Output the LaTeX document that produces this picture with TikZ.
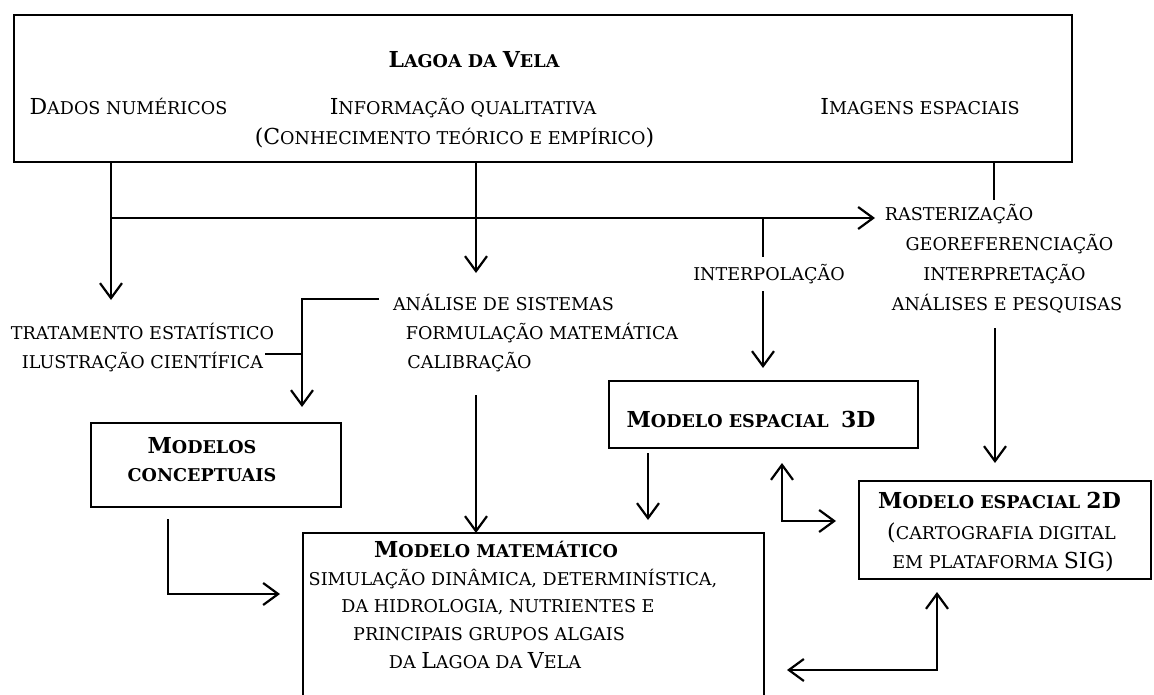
\documentclass[tikz,border=0pt]{standalone}
\usepackage{fontspec}
\setmainfont{DejaVu Serif}
\usetikzlibrary{arrows.meta}
\newcommand{\Bg}[1]{{\fontsize{22}{25}\selectfont #1}}
\begin{document}
\begin{tikzpicture}[x=1pt,y=-1pt,
 box/.style={draw, line width=2.8pt, inner sep=0pt, outer sep=0pt, anchor=north west},
 txt/.style={inner sep=0pt, anchor=base, font=\fontsize{17.6}{20}\selectfont},
 btxt/.style={txt, font=\fontsize{17.6}{20}\selectfont\bfseries},
 conn/.style={line width=2.2pt},
 arr/.style={conn, -{Straight Barb[length=15pt,width=22pt]}},
 darr/.style={conn, {Straight Barb[length=15pt,width=22pt]}-{Straight Barb[length=15pt,width=22pt]}}
]
\useasboundingbox (0,0) rectangle (1154,695);
\clip (0,0) rectangle (1154,695);

% boxes
\node[box, minimum width=1058pt, minimum height=147pt] (top) at (14,15) {};
\node[box, minimum width=250pt, minimum height=84pt] (conc) at (91,423) {};
\node[box, minimum width=309pt, minimum height=67pt] (m3d) at (609,381) {};
\node[box, minimum width=292pt, minimum height=98pt] (m2d) at (859,481) {};
\node[box, minimum width=461pt, minimum height=200pt] (mat) at (303,533) {};

% texts in top box
\node[btxt] (title) at (474,68) {\Bg{L}AGOA DA \Bg{V}ELA};
\node[txt] (dados) at (128.5,115) {\Bg{D}ADOS NUMÉRICOS};
\node[txt] (info) at (463,115) {\Bg{I}NFORMAÇÃO QUALITATIVA};
\node[txt] (conh) at (454.5,145) {\Bg{(C}ONHECIMENTO TEÓRICO E EMPÍRICO\Bg{)}};
\node[txt] (img) at (920,115) {\Bg{I}MAGENS ESPACIAIS};

% middle texts
\node[txt] (rast) at (959,221) {RASTERIZAÇÃO};
\node[txt] (geo) at (1009.5,251) {GEOREFERENCIAÇÃO};
\node[txt] (interp) at (1004.5,280) {INTERPRETAÇÃO};
\node[txt] (analises) at (1007,310) {ANÁLISES E PESQUISAS};
\node[txt] (interpol) at (769,280) {INTERPOLAÇÃO};
\node[txt] (analise) at (503.5,310) {ANÁLISE DE SISTEMAS};
\node[txt] (formul) at (542,339) {FORMULAÇÃO MATEMÁTICA};
\node[txt] (calib) at (469.5,368) {CALIBRAÇÃO};
\node[txt] (trat) at (142.5,339) {TRATAMENTO ESTATÍSTICO};
\node[txt] (ilus) at (142.5,368) {ILUSTRAÇÃO CIENTÍFICA};

% box texts
\node[btxt] (conc1) at (202,453) {\Bg{M}ODELOS};
\node[btxt] (conc2) at (202,481) {CONCEPTUAIS};
\node[btxt] (m3dt) at (751,427) {\Bg{M}ODELO ESPACIAL\ \ \Bg{3D}};
\node[btxt] (m2d1) at (999.5,508) {\Bg{M}ODELO ESPACIAL \Bg{2D}};
\node[txt] (m2d2) at (1001.5,539) {\Bg{(}CARTOGRAFIA DIGITAL};
\node[txt] (m2d3) at (1003,568) {EM PLATAFORMA \Bg{SIG)}};
\node[btxt] (mat1) at (496,557) {\Bg{M}ODELO MATEMÁTICO};
\node[txt] (mat2) at (513,585) {SIMULAÇÃO DINÂMICA, DETERMINÍSTICA,};
\node[txt] (mat3) at (498,612) {DA HIDROLOGIA, NUTRIENTES E};
\node[txt] (mat4) at (489,640) {PRINCIPAIS GRUPOS ALGAIS};
\node[txt] (mat5) at (485,668) {DA \Bg{L}AGOA DA \Bg{V}ELA};

% connector points
\coordinate (j1) at (111,218);
\coordinate (d1tip) at (111,300);
\coordinate (rt) at (875,218);
\coordinate (j2) at (763,218);
\coordinate (j2e) at (763,257);
\coordinate (i1tip) at (476,273);
\coordinate (im) at (994,200);
\coordinate (ip1) at (763,291);
\coordinate (ip2) at (763,368);
\coordinate (an1) at (995,328);
\coordinate (an2) at (995,463);
\coordinate (b1) at (379,299);
\coordinate (b2) at (302,299);
\coordinate (b3) at (302,407);
\coordinate (b4) at (265,354);
\coordinate (b5) at (302,354);
\coordinate (c1) at (476,395);
\coordinate (k1) at (168,519);
\coordinate (k2) at (168,594);
\coordinate (k3) at (280,594);
\coordinate (e1) at (648,453);
\coordinate (e2) at (648,520);
\coordinate (f1) at (782,463);
\coordinate (f2) at (782,521);
\coordinate (f3) at (836,521);
\coordinate (g1) at (937,592);
\coordinate (g2) at (937,670);
\coordinate (g3) at (787,670);

% connectors
\draw[arr] (top.south -| j1) -- (d1tip);
\draw[arr] (j1) -- (rt);
\draw[arr] (top.south -| i1tip) -- (i1tip);
\draw[conn] (top.south -| im) -- (im);
\draw[conn] (j2) -- (j2e);
\draw[arr] (ip1) -- (ip2);
\draw[arr] (an1) -- (an2);
\draw[arr] (b1) -- (b2) -- (b3);
\draw[conn] (b4) -- (b5);
\draw[arr] (c1) -- (mat.north -| c1);
\draw[arr] (k1) -- (k2) -- (k3);
\draw[arr] (e1) -- (e2);
\draw[darr] (f1) -- (f2) -- (f3);
\draw[darr] (g1) -- (g2) -- (g3);
\end{tikzpicture}
\end{document}
